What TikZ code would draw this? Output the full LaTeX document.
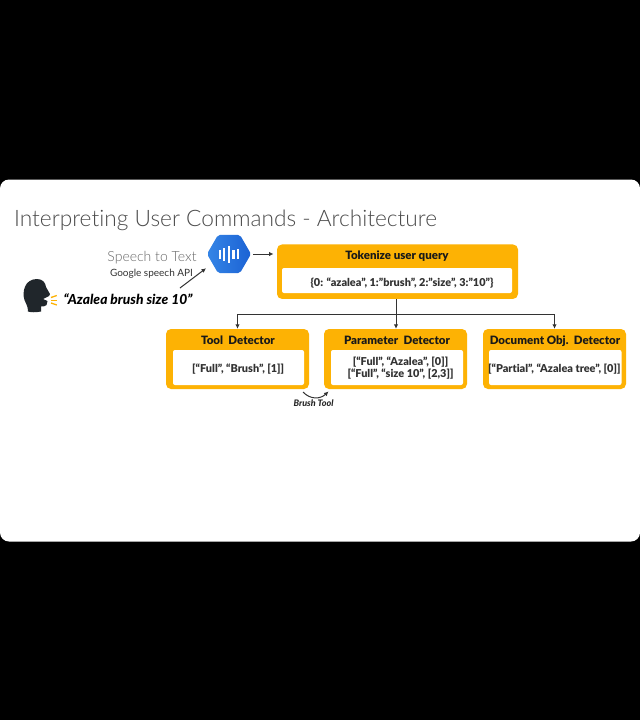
\documentclass[tikz,border=0pt]{standalone}
\usepackage{fontspec}
\setmainfont[Ligatures=NoCommon,BoldFont={Lato Black},BoldItalicFont={Lato Black Italic}]{Lato}
\newfontfamily\lightfont[Ligatures=NoCommon]{Lato Light}
\usetikzlibrary{shapes.geometric,arrows.meta}
\definecolor{amber}{HTML}{FDB204}
\definecolor{inkgray}{HTML}{4C4C4C}
\definecolor{headblack}{HTML}{20262B}
\definecolor{hexlight}{HTML}{3585E6}
\definecolor{hexdark}{HTML}{1B62D4}
\tikzset{
  outerbox/.style={fill=amber,rounded corners=5pt,inner sep=0pt},
  innerbox/.style={fill=white,rounded corners=2pt,inner sep=0pt,align=center,text depth=-1.5pt,font=\fontsize{10.9}{12}\selectfont\bfseries,text=black!80},
  headtext/.style={inner sep=0pt,text height=8.5pt,text depth=2.5pt,font=\fontsize{11.5}{13}\selectfont\bfseries,text=black!90},
  link/.style={draw=black!80,line width=1pt,-{Latex[length=4.5pt,width=4.5pt]}}
}
\begin{document}
\begin{tikzpicture}[x=1pt,y=1pt]
\tikzstyle{every node}+=[inner sep=0pt]
\useasboundingbox (0,0) rectangle (640,-720);
\fill [black] (0,0) rectangle (640,-720);
\fill [white,rounded corners=9pt] (0,-179.5) rectangle (640,-541.5);
\node (title) at (225.5,-220) [text=inkgray,font=\fontsize{22.7}{26}\selectfont\lightfont] {Interpreting User Commands - Architecture};
\node (speech) at (152,-257.5) [text=black!60,font=\fontsize{14}{16}\selectfont\lightfont] {Speech to Text};
\node (api) at (151.5,-274) [text=black!80,font=\fontsize{10}{12}\selectfont] {Google speech API};
\node (quote) at (128,-299) [text=black,font=\fontsize{13.8}{15}\selectfont\bfseries\itshape] {“Azalea brush size 10”};
\node (hex) at (229,-254) [regular polygon,regular polygon sides=6,minimum size=44pt,left color=hexlight,right color=hexdark,rounded corners=2pt] {};
\foreach \barx/\barh in {220/4.5,224.2/6.5,228.6/8.5,233.4/4.5,238/5}
  \fill [white] (\barx-1.1,-254-\barh) rectangle (\barx+1.1,-254+\barh);
\node (token) at (397.5,-271.7) [outerbox,minimum width=241pt,minimum height=54.5pt] {};
\node (tokenval) at (397,-280.5) [fill=white,rounded corners=2pt,minimum width=230pt,minimum height=25pt] {};
\node (tokentext) at (402,-282.3) [innerbox,fill=none] {\{0: “azalea”, 1:”brush”, 2:”size”, 3:”10”\}};
\node (tokenhead) at (397,-256.5) [headtext] {Tokenize user query};
\node (tool) at (237.5,-359) [outerbox,minimum width=143pt,minimum height=60pt] {};
\node (toolval) at (238.5,-367.5) [fill=white,rounded corners=2pt,minimum width=131pt,minimum height=35pt] {};
\node (tooltext) at (238.2,-368.3) [innerbox,fill=none] {[“Full”, “Brush”, [1]]};
\node (toolhead) at (238,-341.5) [headtext] {Tool\ \ Detector};
\node (param) at (395.5,-359) [outerbox,minimum width=143pt,minimum height=60pt] {};
\node (paramval) at (397,-367.5) [fill=white,rounded corners=2pt,minimum width=132pt,minimum height=35pt] {};
\node (paramtext) at (400.5,-367) [innerbox,fill=none] {[“Full”, “Azalea”, [0]]\\[0pt] [“Full”, “size 10”, [2,3]]};
\node (paramhead) at (397,-341.5) [headtext] {Parameter\ \ Detector};
\node (docobj) at (554.5,-359) [outerbox,minimum width=143pt,minimum height=60pt] {};
\node (docval) at (555.3,-367.5) [fill=white,rounded corners=2pt,minimum width=132.5pt,minimum height=35pt] {};
\node (doctext) at (554.3,-368.3) [innerbox,fill=none] {[“Partial”, “Azalea tree”, [0]]};
\node (dochead) at (555,-341.5) [headtext] {Document Obj.\ \ Detector};
\node (brush) at (313.5,-403.3) [text=black!85,font=\fontsize{9}{10}\selectfont\bfseries\itshape] {Brush Tool};
\coordinate (split) at (396,-314.7);
\coordinate (brushfrom) at (303,-392);
\coordinate (brushto) at (328.5,-391.5);
\coordinate (apifrom) at (180,-288);
\coordinate (apito) at (206,-268.3);
\coordinate (hexout) at (253,-254);
\coordinate (tokenin) at (273.5,-254);
\draw [link] (hexout) -- (tokenin);
\draw [link] (apifrom) -- (apito);
\draw [draw=black!80,line width=1pt] (split |- token.south) -- (split);
\draw [link] (split) -- (split |- param.north);
\draw [link] (split) -| (tool.north);
\draw [link] (split) -| (docobj.north);
\draw [link] (brushfrom) .. controls (310,-399.5) and (320,-399.5) .. (brushto);
\fill [headblack] (28,-311.5) .. controls (28,-306) and (26,-304) .. (24.5,-300)
  .. controls (22,-293) and (24,-279) .. (37,-279)
  .. controls (43,-279) and (45.5,-283) .. (46,-287)
  -- (50,-294) -- (49,-296) -- (43,-299) -- (47.5,-301) -- (46.5,-305)
  .. controls (45.5,-306.5) and (43,-306.5) .. (41,-306.5)
  -- (41,-311.5) .. controls (36,-312.5) and (31,-312.5) .. (28,-311.5) -- cycle;
\foreach \markfrom/\markto in {-297.5/-295.5,-300.2/-300.2,-303/-305}
  \draw [amber,line width=1.3pt] (51,\markfrom) -- (56.8,\markto);
\end{tikzpicture}
\end{document}
